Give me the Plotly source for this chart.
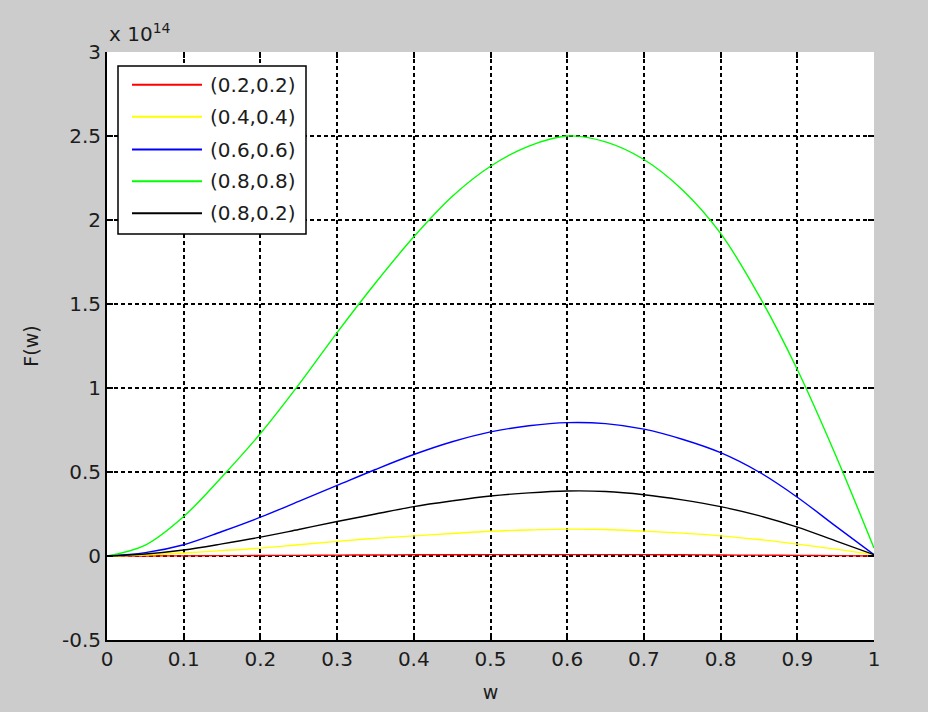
import plotly.graph_objects as go

# w values (x axis)
w = [0.0, 0.05, 0.10, 0.15, 0.20, 0.25, 0.30, 0.35, 0.40, 0.45, 0.50,
     0.55, 0.60, 0.65, 0.70, 0.75, 0.80, 0.85, 0.90, 0.95, 1.0]

# F(w) in units of 1e14
f_02_02 = [0, 0.0003, 0.001, 0.002, 0.003, 0.004, 0.005, 0.006, 0.007, 0.0075, 0.008,
           0.008, 0.008, 0.008, 0.008, 0.007, 0.006, 0.005, 0.004, 0.002, 0.0]
f_04_04 = [0, 0.006, 0.018, 0.032, 0.047, 0.067, 0.087, 0.105, 0.120, 0.134, 0.147,
           0.155, 0.160, 0.158, 0.148, 0.136, 0.120, 0.098, 0.071, 0.041, 0.008]
f_06_06 = [0, 0.020, 0.067, 0.146, 0.231, 0.325, 0.420, 0.515, 0.604, 0.680, 0.739,
           0.775, 0.794, 0.788, 0.755, 0.695, 0.615, 0.500, 0.350, 0.178, 0.008]
f_08_08 = [0, 0.065, 0.235, 0.472, 0.729, 1.020, 1.330, 1.625, 1.900, 2.140, 2.320,
           2.440, 2.500, 2.465, 2.360, 2.180, 1.920, 1.550, 1.110, 0.600, 0.047]
f_08_02 = [0, 0.012, 0.036, 0.072, 0.112, 0.158, 0.205, 0.250, 0.294, 0.328, 0.357,
           0.376, 0.387, 0.384, 0.365, 0.334, 0.294, 0.240, 0.172, 0.090, 0.008]

series_names = ["(0.2,0.2)", "(0.4,0.4)", "(0.6,0.6)", "(0.8,0.8)", "(0.8,0.2)"]
series_values = [f_02_02, f_04_04, f_06_06, f_08_08, f_08_02]
series_colors = ["#ff0000", "#ffff00", "#0000ff", "#00ff00", "#000000"]

x_ticks = [0, 0.1, 0.2, 0.3, 0.4, 0.5, 0.6, 0.7, 0.8, 0.9, 1.0]
x_tick_labels = ["0", "0.1", "0.2", "0.3", "0.4", "0.5", "0.6", "0.7", "0.8", "0.9", "1"]
y_ticks = [-0.5, 0, 0.5, 1, 1.5, 2, 2.5, 3]
y_tick_labels = ["-0.5", "0", "0.5", "1", "1.5", "2", "2.5", "3"]

FONT = "DejaVu Sans, Arial, sans-serif"
TXT = "#1c1c1c"

# plot-area geometry (pixels) used to place the MATLAB-style legend
ML, MR, MT, MB = 107, 54, 52, 69
W, H = 928, 712
PW, PH = W - ML - MR, H - MT - MB


def px(xp):
    return (xp - ML) / PW


def py(yp):
    return (H - MB - yp) / PH


fig = go.Figure()
for name, vals, col in zip(series_names, series_values, series_colors):
    fig.add_trace(go.Scatter(
        x=w, y=vals, name=name, mode="lines",
        line=dict(color=col, width=1.4, shape="spline", smoothing=1.0),
        showlegend=False,
    ))

# invisible trace to create mirror axes for top/right ticks
fig.add_trace(go.Scatter(x=[0, 1], y=[0, 0], xaxis="x2", yaxis="y2",
                         mode="lines", line=dict(width=0), showlegend=False,
                         hoverinfo="skip"))

grid = dict(showgrid=True, gridcolor="#000000", gridwidth=1.6, griddash="4px,3px")

# legend (box, line samples, labels)
shapes = [dict(type="rect", xref="paper", yref="paper",
               x0=px(118), x1=px(306), y0=py(235), y1=py(66),
               fillcolor="#ffffff", line=dict(color="#000000", width=1.5), layer="above")]
annotations = []
row_y = [85, 117, 150, 182, 214]
for yy, name, col in zip(row_y, series_names, series_colors):
    shapes.append(dict(type="line", xref="paper", yref="paper",
                       x0=px(132), x1=px(202), y0=py(yy), y1=py(yy),
                       line=dict(color=col, width=2), layer="above"))
    annotations.append(dict(text=name, xref="paper", yref="paper",
                            x=px(208), y=py(yy), xanchor="left", yanchor="middle",
                            showarrow=False, font=dict(size=20, color=TXT)))

annotations.append(dict(text="x 10<sup>14</sup>", xref="paper", yref="paper",
                        x=0, y=1, xanchor="left", yanchor="bottom", yshift=4,
                        showarrow=False, font=dict(size=20, color=TXT)))

fig.update_layout(
    width=W, height=H,
    paper_bgcolor="#cccccc", plot_bgcolor="#ffffff",
    margin=dict(l=ML, r=MR, t=MT, b=MB),
    font=dict(family=FONT, size=20, color=TXT),
    xaxis=dict(range=[0, 1], tickvals=x_ticks, ticktext=x_tick_labels,
               ticks="inside", ticklen=6, tickwidth=1.5, tickcolor="#000",
               showline=True, linecolor="#000", linewidth=2, zeroline=False,
               title=dict(text="w", font=dict(size=19), standoff=16),
               **grid),
    yaxis=dict(range=[-0.5, 3], tickvals=y_ticks, ticktext=y_tick_labels,
               ticks="inside", ticklen=6, tickwidth=1.5, tickcolor="#000",
               showline=True, linecolor="#000", linewidth=2, zeroline=False,
               title=dict(text="F(w)", font=dict(size=19), standoff=18),
               **grid),
    xaxis2=dict(range=[0, 1], overlaying="x", side="top", tickvals=x_ticks,
                ticks="inside", ticklen=6, tickwidth=1.5, tickcolor="#000",
                showticklabels=False, showgrid=False, showline=False, zeroline=False),
    yaxis2=dict(range=[-0.5, 3], overlaying="y", side="right", tickvals=y_ticks,
                ticks="inside", ticklen=6, tickwidth=1.5, tickcolor="#000",
                showticklabels=False, showgrid=False, showline=False, zeroline=False),
    showlegend=False,
    shapes=shapes,
    annotations=annotations,
)

fig.write_html("out.html",
               config={"displayModeBar": False},
               post_script="document.body.style.margin='0';"
                           "document.body.style.background='#cccccc';")
